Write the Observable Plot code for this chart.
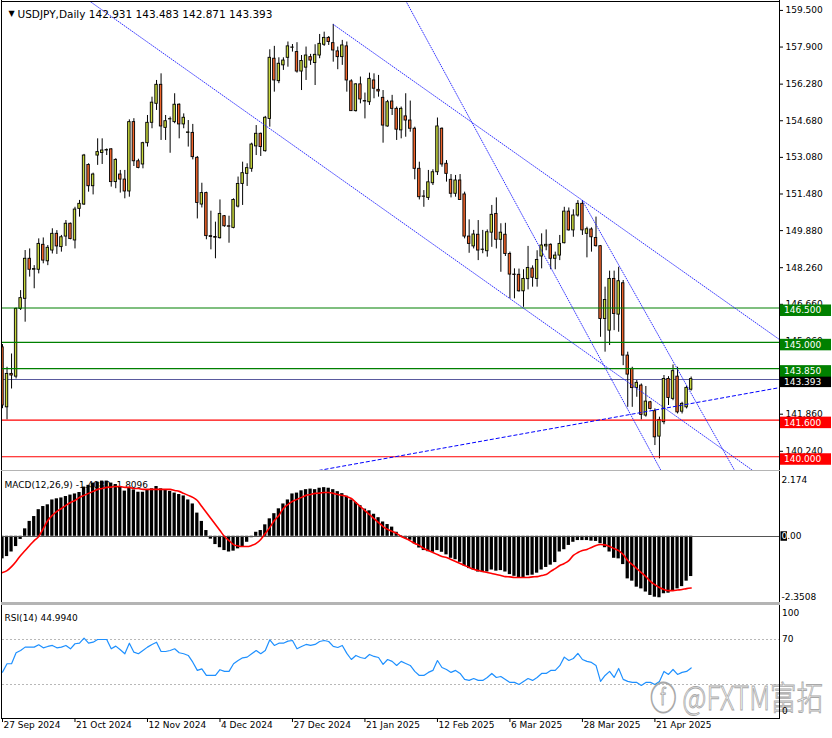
<!DOCTYPE html>
<html><head><meta charset="utf-8">
<script src="https://cdn.jsdelivr.net/npm/d3@7"></script>
<script src="https://cdn.jsdelivr.net/npm/@observablehq/plot@0.6"></script>
<style>
html,body{margin:0;padding:0;background:#fff;}
#chart{position:relative;width:832px;height:738px;overflow:hidden;background:#fff;}
#chart svg{position:absolute;left:0;display:block;overflow:visible;}
</style></head><body><div id="chart"></div>
<script>
// ---------------- DATA ----------------
const symbolTitle = "USDJPY,Daily 142.931 143.483 142.871 143.393";
const macdTitle = "MACD(12,26,9) -1.4080 -1.8096";
const rsiTitle = "RSI(14) 44.9940";
const watermark = "ⓕ @FXTM富拓";

const opens = [144.78,142.16,143.62,143.50,146.46,146.90,148.65,148.17,148.17,149.26,148.54,149.01,149.74,149.16,149.62,150.18,149.45,150.83,151.02,152.75,151.82,153.16,153.27,153.38,153.43,152.00,152.33,152.11,151.59,154.62,152.91,152.77,153.70,154.59,155.42,156.25,154.37,154.74,154.62,155.38,154.52,154.15,154.15,153.06,151.02,151.52,149.64,149.60,149.55,150.51,150.07,150.00,150.93,151.92,152.36,152.58,153.56,154.11,153.35,154.76,157.39,156.41,157.10,157.43,157.87,157.68,156.83,157.00,157.46,157.20,157.53,158.00,158.30,158.07,157.71,157.46,157.93,156.40,155.10,156.27,155.54,155.49,156.44,156.03,155.68,154.43,155.52,155.20,154.26,154.87,154.69,154.33,152.58,151.37,151.31,151.95,152.43,154.33,152.80,152.10,151.49,152.07,151.46,149.62,149.19,149.70,149.04,148.98,149.79,150.61,149.48,149.70,148.86,147.96,147.95,147.23,147.76,148.22,147.77,148.75,149.19,149.26,148.65,148.79,149.33,150.71,149.89,150.54,151.05,149.74,149.93,149.56,149.20,146.02,145.51,147.77,146.21,147.58,144.42,143.84,143.00,143.11,141.80,142.38,141.99,140.88,141.51,143.40,142.53,143.50,141.97,142.16,142.931];
const highs = [144.90,143.91,144.49,146.50,147.26,149.01,149.08,148.35,149.52,149.56,149.23,149.96,149.88,149.67,150.32,150.21,150.90,151.20,153.21,152.80,152.39,153.89,153.89,153.45,153.46,153.02,152.51,152.51,154.72,154.77,153.00,153.74,154.91,155.71,156.44,156.73,154.91,154.84,155.86,155.42,154.98,154.69,154.52,153.12,151.95,151.56,150.73,150.25,151.22,150.54,150.51,151.27,152.22,152.87,152.80,153.70,154.47,154.14,154.87,157.78,157.93,157.43,157.43,158.12,158.01,158.09,157.53,157.90,157.58,158.00,158.45,158.55,158.36,158.89,157.90,158.19,158.12,156.47,156.30,156.59,155.89,156.76,156.73,156.66,156.00,155.57,155.79,155.28,155.28,155.86,155.54,154.40,152.87,151.63,152.51,152.54,154.80,154.37,152.94,152.33,152.29,152.33,151.56,150.35,149.89,150.32,149.89,149.91,150.98,151.31,150.18,150.20,148.94,148.21,148.20,148.17,149.19,148.34,149.00,149.74,149.91,149.30,148.94,149.67,150.90,150.87,150.79,151.19,151.19,150.03,150.00,150.47,149.23,147.41,148.11,148.11,148.28,147.70,144.57,143.91,143.33,143.18,143.07,142.42,142.09,141.73,143.55,143.50,144.01,143.91,142.38,143.07,143.483];
const lows = [142.10,141.61,142.96,143.40,146.39,145.88,147.85,147.34,147.99,148.43,148.35,148.86,148.84,148.94,149.19,149.48,149.08,150.47,150.98,151.56,151.44,152.73,152.77,153.16,151.78,151.71,151.52,151.27,151.34,152.68,152.58,152.58,153.53,154.33,155.13,153.82,153.82,153.26,154.55,153.89,154.33,153.53,152.97,150.39,150.87,149.48,149.04,148.65,149.51,150.03,149.33,149.96,150.87,150.98,151.81,152.43,153.16,153.12,153.31,154.40,155.93,156.30,156.88,157.02,157.68,156.76,156.00,156.44,157.10,156.22,157.39,157.93,157.97,157.24,156.91,157.10,155.93,155.09,155.06,155.42,154.76,155.35,155.64,155.71,153.70,154.40,154.91,153.82,153.89,153.96,154.18,152.10,151.22,150.90,151.20,151.85,152.29,152.65,152.00,151.31,151.34,151.22,149.52,148.89,149.08,148.57,148.87,148.72,149.15,149.08,148.06,148.75,146.90,146.90,147.19,146.53,147.29,147.41,147.41,148.21,149.00,148.17,148.17,148.57,149.30,149.86,149.59,150.47,149.67,148.69,148.94,149.16,145.22,144.57,144.86,145.51,145.44,143.98,142.16,142.16,142.60,141.61,141.73,142.05,140.49,139.91,141.40,142.24,142.45,141.87,141.87,142.09,142.871];
const closes = [142.24,143.62,143.55,146.46,146.93,148.65,148.17,148.20,149.30,148.57,149.13,149.74,149.19,149.59,150.18,149.51,150.80,151.05,153.16,151.82,152.33,153.31,153.38,153.40,152.00,152.97,152.11,151.59,154.62,152.91,152.62,153.70,154.59,155.47,156.25,154.43,154.66,154.75,155.38,154.52,154.81,154.17,153.09,151.09,151.52,149.64,149.60,149.57,150.61,150.07,150.05,151.22,151.92,152.39,152.61,153.64,154.11,153.53,154.81,157.43,156.44,157.17,157.31,157.93,157.88,156.83,157.29,157.53,157.31,157.56,158.04,158.30,158.12,157.75,157.46,157.97,156.44,155.10,156.27,155.61,155.52,156.51,156.08,155.96,154.47,155.49,155.20,154.29,155.20,154.69,154.33,152.58,151.34,151.36,151.99,152.43,154.43,152.77,152.36,151.49,152.07,151.22,149.62,149.30,149.71,149.01,149.05,149.81,150.57,149.48,149.79,148.86,147.96,147.94,147.23,147.77,148.25,147.82,148.60,149.23,149.26,148.65,148.79,149.30,150.71,149.89,150.54,151.05,149.89,149.94,149.59,149.20,146.02,146.85,147.77,146.24,147.67,144.42,143.59,143.00,143.23,141.83,142.41,142.09,140.85,141.61,143.40,142.57,143.74,141.94,142.31,143.01,143.393];

const macdMain = [-0.79,-0.71,-0.55,-0.36,-0.11,0.26,0.52,0.69,0.93,1.04,1.10,1.27,1.31,1.34,1.39,1.44,1.48,1.53,1.72,1.78,1.86,1.89,1.93,1.93,1.86,1.81,1.74,1.58,1.69,1.62,1.54,1.54,1.62,1.66,1.74,1.66,1.60,1.57,1.51,1.46,1.41,1.27,1.13,0.81,0.52,0.20,-0.10,-0.29,-0.40,-0.50,-0.55,-0.52,-0.44,-0.36,-0.21,-0.05,0.14,0.20,0.40,0.61,0.79,0.96,1.13,1.27,1.48,1.51,1.59,1.63,1.65,1.63,1.68,1.70,1.68,1.63,1.56,1.49,1.40,1.27,1.18,1.07,0.95,0.89,0.77,0.65,0.50,0.41,0.32,0.14,0.02,-0.07,-0.14,-0.27,-0.41,-0.50,-0.54,-0.56,-0.50,-0.56,-0.65,-0.77,-0.82,-0.91,-1.04,-1.13,-1.18,-1.25,-1.27,-1.25,-1.18,-1.22,-1.20,-1.25,-1.34,-1.40,-1.47,-1.45,-1.38,-1.36,-1.29,-1.18,-1.09,-1.01,-0.92,-0.55,-0.47,-0.32,-0.21,-0.15,-0.15,-0.15,-0.17,-0.18,-0.26,-0.40,-0.55,-0.77,-0.79,-0.99,-1.49,-1.57,-1.78,-1.84,-1.95,-2.07,-2.13,-2.15,-2.01,-1.99,-1.92,-1.84,-1.76,-1.57,-1.408];
const macdSignal = [-1.27,-1.20,-1.06,-0.88,-0.67,-0.50,-0.32,-0.15,-0.01,0.27,0.55,0.73,0.87,0.97,1.08,1.18,1.25,1.36,1.43,1.50,1.57,1.64,1.67,1.71,1.72,1.74,1.74,1.71,1.71,1.67,1.67,1.64,1.64,1.64,1.64,1.64,1.64,1.64,1.60,1.57,1.50,1.43,1.36,1.25,1.04,0.83,0.62,0.41,0.20,-0.01,-0.15,-0.29,-0.34,-0.36,-0.36,-0.32,-0.25,-0.11,0.10,0.31,0.55,0.73,0.97,1.11,1.22,1.29,1.36,1.43,1.46,1.50,1.51,1.53,1.53,1.50,1.46,1.43,1.39,1.32,1.18,1.04,0.90,0.76,0.62,0.48,0.34,0.24,0.17,0.10,-0.01,-0.08,-0.16,-0.25,-0.32,-0.43,-0.50,-0.57,-0.64,-0.71,-0.74,-0.81,-0.88,-0.95,-1.02,-1.09,-1.15,-1.20,-1.23,-1.27,-1.30,-1.34,-1.37,-1.41,-1.42,-1.44,-1.44,-1.44,-1.44,-1.42,-1.41,-1.37,-1.34,-1.23,-1.13,-1.02,-0.95,-0.85,-0.67,-0.57,-0.50,-0.46,-0.39,-0.32,-0.29,-0.30,-0.36,-0.43,-0.50,-0.64,-0.85,-0.99,-1.13,-1.27,-1.41,-1.58,-1.69,-1.79,-1.86,-1.90,-1.90,-1.88,-1.86,-1.83,-1.8096];
const rsiValues = [41.2,48.7,48.7,58.5,60.5,63.5,63.5,63.5,65.6,62.9,64.1,65.0,62.9,63.5,65.0,62.0,66.5,67.0,71.5,67.0,67.9,70.3,70.3,70.3,62.0,64.4,61.1,57.6,67.0,59.0,57.6,60.5,63.5,65.9,67.9,59.6,59.6,60.5,62.0,58.5,57.6,56.1,50.1,42.8,44.2,38.3,38.3,38.3,43.4,41.9,41.9,48.7,51.6,54.0,54.6,57.6,60.5,57.6,60.5,70.0,65.0,67.0,67.0,68.8,69.4,62.0,64.1,65.9,65.0,65.9,68.5,69.4,68.5,64.1,63.2,65.0,57.9,52.5,56.1,54.3,53.4,57.0,55.2,54.3,48.1,52.5,50.8,47.2,50.8,49.0,47.2,41.9,38.3,38.3,41.0,42.8,51.6,45.4,43.6,41.0,42.8,40.1,34.8,33.9,35.6,33.9,33.9,36.5,40.1,36.5,37.4,34.8,32.1,32.1,30.3,33.0,35.6,33.9,36.5,40.1,40.1,42.8,42.8,47.0,54.6,51.6,53.4,57.9,52.5,50.8,49.9,47.2,33.0,38.3,41.9,36.5,44.5,34.8,33.0,32.1,32.1,29.4,32.1,32.1,30.3,33.0,41.9,39.2,43.6,39.2,41.0,41.9,44.99];

const priceTicks = [159.5,157.9,156.28,154.68,153.08,151.48,149.88,148.26,146.66,145.06,143.46,141.86,140.24];
const levelPrices = [146.5,145.0,143.85,141.6,140.0];
const levelColors = ["#008000","#008000","#008000","#ff0000","#ff0000"];
const currentPrice = 143.393;

const dateTickBars = [0,16,32,48,64,80,96,112,128,144];
const dateLabels = ["27 Sep 2024","21 Oct 2024","12 Nov 2024","4 Dec 2024","27 Dec 2024","21 Jan 2025","12 Feb 2025","6 Mar 2025","28 Mar 2025","21 Apr 2025"];

// trend lines: start (bar, price) -> end (bar, price)
const trendStartBars = [18.98, 73, 88.96, 128, 69.76];
const trendStartPrices = [159.94, 158.89, 159.94, 151.19, 139.40];
const trendEndBars = [165.6, 171.5, 145.34, 161.6, 171.5];
const trendEndPrices = [139.40, 145.12, 139.40, 139.40, 143.02];
const trendDashed = [false, false, false, false, true];

const macdAxisLabels = [2.174, 0, -2.3508];
const macdAxisText = ["2.174", "0.00", "-2.3508"];
const rsiAxisLabels = [100, 70, 0];
const rsiLevels = [70, 30];

// ---------------- LAYOUT ----------------
const FONT = "DejaVu Sans, sans-serif";
const W = 832, MR = 53, ML = 2;
const X_DOMAIN = [0, 171.5];
const BULL = "#c8d83c", BEAR = "#f0642a";

const candles = opens.map((o, k) => ({k, o, h: highs[k], l: lows[k], c: closes[k]}));
const trends = trendStartBars.map((b, i) => ({x1: b, y1: trendStartPrices[i], x2: trendEndBars[i], y2: trendEndPrices[i], dashed: trendDashed[i]}));

function borders(opts) {
  return (index, scales, values, dims) => {
    const {width, height, marginRight} = dims;
    const g = d3.create("svg:g").attr("fill", "none").attr("shape-rendering", "crispEdges");
    const xr = width - marginRight + 0.5;
    g.append("line").attr("x1", 1.5).attr("x2", 1.5).attr("y1", 0).attr("y2", opts.sideH || height).attr("stroke", "#000");
    g.append("line").attr("x1", xr).attr("x2", xr).attr("y1", 0).attr("y2", opts.sideH || height).attr("stroke", "#000");
    if (opts.top) g.append("line").attr("x1", 1).attr("x2", xr).attr("y1", opts.topY).attr("y2", opts.topY).attr("stroke", opts.top).attr("stroke-width", opts.topW || 1);
    if (opts.bottom) g.append("line").attr("x1", 1).attr("x2", xr).attr("y1", opts.bottomY).attr("y2", opts.bottomY).attr("stroke", opts.bottom).attr("stroke-width", opts.bottomW || 1);
    return g.node();
  };
}

function levelBoxes(index, {y}, values, dims) {
  const {width, marginRight} = dims;
  const x0 = width - marginRight + 1;
  const g = d3.create("svg:g").attr("font-family", FONT).attr("font-size", 9).attr("text-anchor", "start");
  const add = (p, fill, txt) => {
    const yy = y(p);
    g.append("rect").attr("x", x0).attr("y", yy - 3).attr("width", 51).attr("height", 11.5).attr("fill", fill);
    g.append("text").attr("x", x0 + 4).attr("y", yy + 2.8).attr("dy", "0.35em").attr("fill", "#fff").text(txt);
  };
  add(currentPrice, "#000", currentPrice.toFixed(3));
  levelPrices.forEach((p, i) => add(p, levelColors[i], p.toFixed(3)));
  return g.node();
}

const chart = document.getElementById("chart");
function place(svg, top) { svg.style.top = top + "px"; chart.appendChild(svg); }

// ---------------- MAIN PANEL ----------------
const main = Plot.plot({
  width: W, height: 471,
  marginTop: 1, marginBottom: 1, marginLeft: ML, marginRight: MR,
  style: {fontFamily: FONT, fontSize: "9px", background: "transparent", color: "#000", overflow: "visible"},
  x: {domain: X_DOMAIN, axis: null},
  y: {domain: [139.40, 159.89], axis: "right", ticks: priceTicks, tickFormat: d => d.toFixed(3), tickSize: 3, tickPadding: 3, label: null},
  color: {type: "identity"},
  marks: [
    Plot.ruleY([currentPrice], {stroke: "#5a5a9e", strokeWidth: 1, shapeRendering: "crispEdges"}),
    Plot.ruleX(candles, {x: "k", y1: "l", y2: "h", stroke: "#000", strokeWidth: 1, clip: true}),
    Plot.rect(candles, {x1: d => d.k - 0.27, x2: d => d.k + 0.27, y1: d => Math.min(d.o, d.c), y2: d => Math.max(d.o, d.c),
      fill: d => d.c >= d.o ? BULL : BEAR, stroke: "#000", strokeWidth: 0.9, clip: true}),
    Plot.ruleY(levelPrices, {y: d => d, stroke: (d, i) => levelColors[i], strokeWidth: 1.2}),
    Plot.link(trends.filter(t => !t.dashed), {x1: "x1", y1: "y1", x2: "x2", y2: "y2", stroke: "#1a1aff", strokeWidth: 0.9, strokeDasharray: "1.6,0.8", clip: true}),
    Plot.link(trends.filter(t => t.dashed), {x1: "x1", y1: "y1", x2: "x2", y2: "y2", stroke: "#0000ff", strokeWidth: 1, strokeDasharray: "4,2", clip: true}),
    levelBoxes,
    Plot.text(["▼"], {frameAnchor: "top-left", dx: 6, dy: 9, fontSize: 8, fill: "#000"}),
    Plot.text([symbolTitle], {frameAnchor: "top-left", dx: 15, dy: 9, textAnchor: "start", fontSize: 10.5, fill: "#000"}),
    borders({top: "#000", topY: 1.5, bottom: "#b4b4b4", bottomY: 470.5, bottomW: 1})
  ]
});
place(main, 0);

// ---------------- MACD PANEL ----------------
function macdAxis(index, {y}, values, dims) {
  const {width, marginRight} = dims;
  const x0 = width - marginRight;
  const g = d3.create("svg:g").attr("font-family", FONT).attr("font-size", 9).attr("fill", "#000").attr("text-anchor", "start");
  const dys = [6.5, 0, -6.5];
  macdAxisLabels.forEach((v, i) => {
    const yy = y(v);
    if (v === 0) g.append("rect").attr("x", x0 + 1.5).attr("y", yy - 4.5).attr("width", 6.5).attr("height", 9.5).attr("fill", "#000");
    g.append("text").attr("x", x0 + 2.5).attr("y", yy + dys[i]).attr("dy", "0.35em").text(macdAxisText[i]);
    if (v === 0) g.append("text").attr("x", x0 + 2.5).attr("y", yy).attr("dy", "0.35em").attr("fill", "#fff").text("0");
  });
  return g.node();
}
const macd = Plot.plot({
  width: W, height: 133,
  marginTop: 2.6, marginBottom: 1, marginLeft: ML, marginRight: MR,
  style: {fontFamily: FONT, fontSize: "9px", background: "transparent", color: "#000", overflow: "visible"},
  x: {domain: X_DOMAIN, axis: null},
  y: {domain: [-2.3508, 2.174], axis: null},
  marks: [
    Plot.text([macdTitle], {frameAnchor: "top-left", dx: 2, dy: 7.5, textAnchor: "start", fill: "#000"}),
    Plot.rectY(macdMain, {x1: (d, i) => i - 0.36, x2: (d, i) => i + 0.36, y1: 0, y2: d => d, fill: "#000", clip: true}),
    Plot.ruleY([0], {stroke: "#555", strokeWidth: 1, shapeRendering: "crispEdges"}),
    Plot.line(macdSignal, {x: (d, i) => i, y: d => d, stroke: "#ff0000", strokeWidth: 1.6, curve: "monotone-x", clip: true}),
    macdAxis,
    borders({bottom: "#b4b4b4", bottomY: 132, bottomW: 2})
  ]
});
place(macd, 471);

// ---------------- RSI PANEL ----------------
function rsiAxis(index, {y}, values, dims) {
  const {width, marginRight} = dims;
  const x0 = width - marginRight;
  const g = d3.create("svg:g").attr("font-family", FONT).attr("font-size", 9).attr("fill", "#000").attr("text-anchor", "start");
  const dys = [7, 0, -7];
  rsiAxisLabels.forEach((v, i) => {
    g.append("text").attr("x", x0 + 3).attr("y", y(v) + dys[i]).attr("dy", "0.35em").text(String(v));
  });
  return g.node();
}
function watermarkMark(index, scales, values, dims) {
  const {width, height, marginRight, marginBottom} = dims;
  const g = d3.create("svg:g");
  g.append("text").attr("x", width - marginRight - 129).attr("y", height - marginBottom - 8)
    .attr("text-anchor", "start").attr("font-family", "Noto Sans CJK SC, sans-serif").attr("font-size", 33).attr("font-weight", 300)
    .attr("textLength", 173).attr("lengthAdjust", "spacingAndGlyphs")
    .attr("fill", "#fff").attr("stroke", "#a8a8a8").attr("stroke-width", 0.9).text(watermark);
  return g.node();
}
const rsi = Plot.plot({
  width: W, height: 134,
  marginTop: 1.6, marginBottom: 20, marginLeft: ML, marginRight: MR,
  style: {fontFamily: FONT, fontSize: "9px", background: "transparent", color: "#000", overflow: "visible"},
  x: {domain: X_DOMAIN, axis: "bottom", ticks: dateTickBars, tickFormat: () => "", tickSize: 4, label: null},
  y: {domain: [0, 100], axis: null},
  marks: [
    Plot.ruleY(rsiLevels, {stroke: "#b8b8b8", strokeDasharray: "2,2", shapeRendering: "crispEdges"}),
    Plot.line(rsiValues, {x: (d, i) => i, y: d => d, stroke: "#1e90ff", strokeWidth: 1.2, clip: true}),
    Plot.text([rsiTitle], {frameAnchor: "top-left", dx: 2, dy: 9, textAnchor: "start", fill: "#000"}),
    Plot.text(dateLabels, {x: (d, i) => dateTickBars[i], frameAnchor: "bottom", dy: 9, dx: 1, textAnchor: "start", fill: "#000"}),
    watermarkMark,
    rsiAxis,
    borders({top: "#b4b4b4", topY: 0.5, topW: 1, bottom: "#000", bottomY: 114.5, sideH: 114.5})
  ]
});
place(rsi, 604);
</script></body></html>
